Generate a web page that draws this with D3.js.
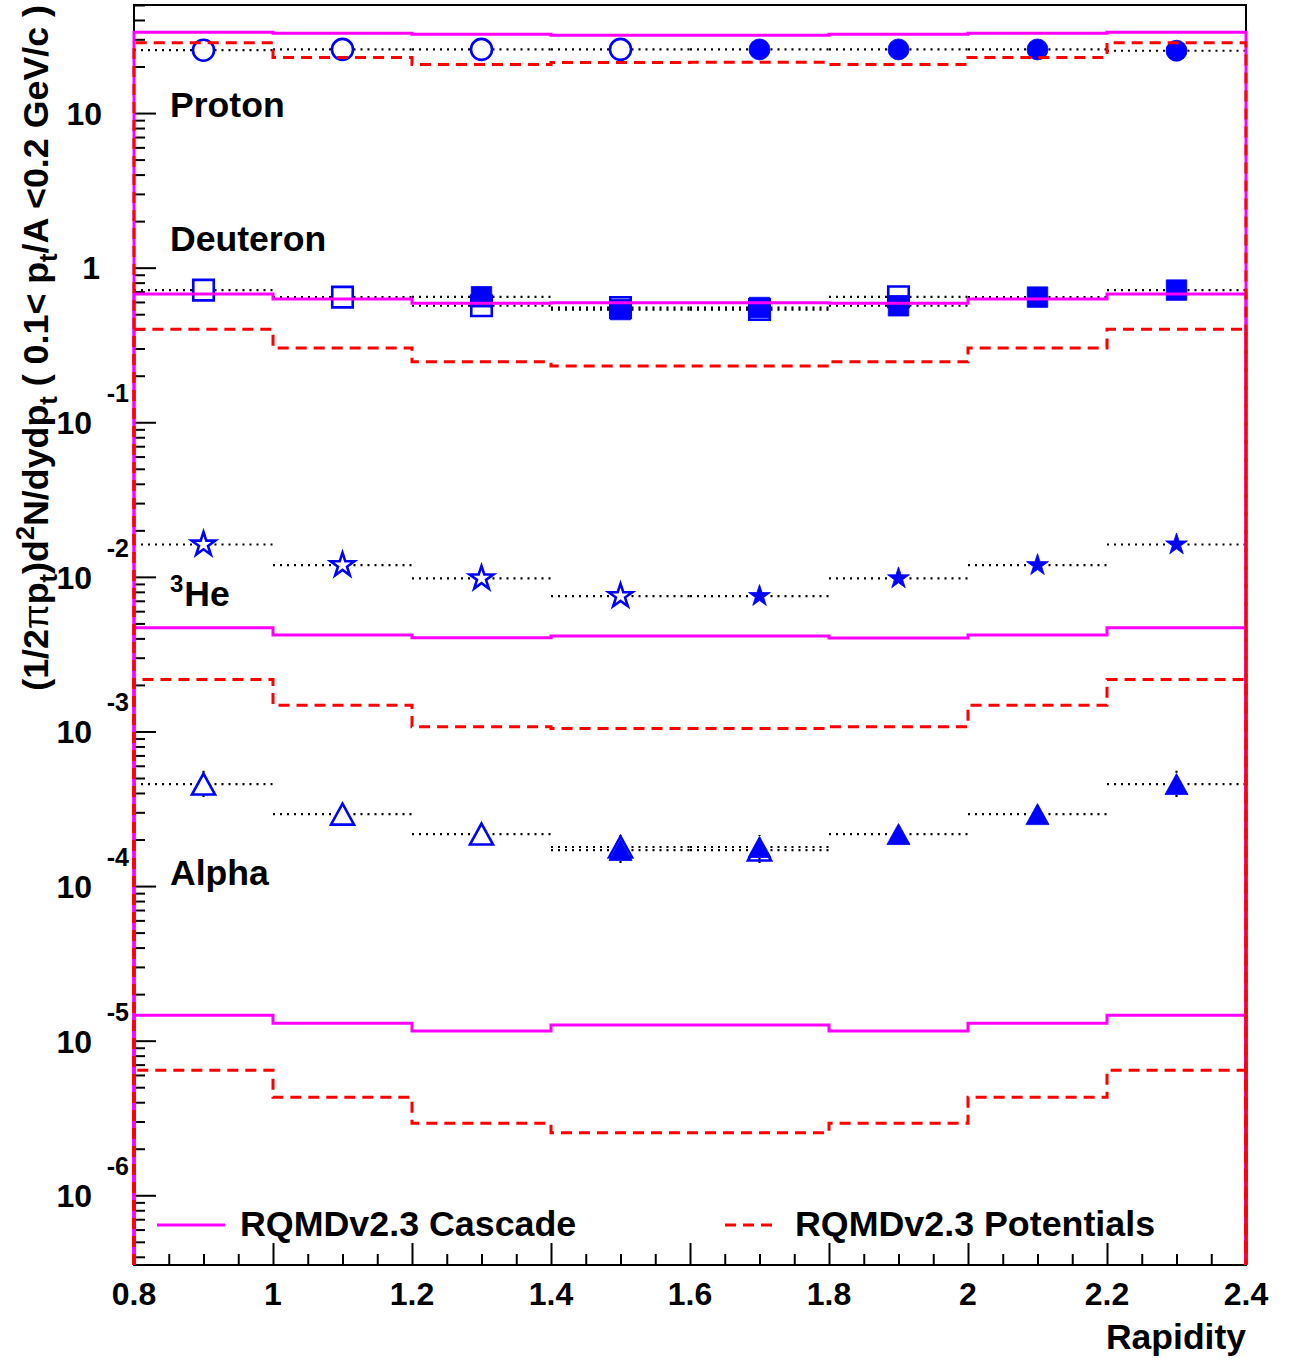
<!DOCTYPE html>
<html><head><meta charset="utf-8">
<script src="https://cdn.jsdelivr.net/npm/d3@7"></script>
<style>
body{margin:0;background:#fff}
text{font-family:"Liberation Sans",Arial,Helvetica,sans-serif;font-weight:bold;fill:#000}
</style>
</head><body>
<svg id="chart" width="1294" height="1364"></svg>
<script>
// ---------------- DATA ----------------
const binEdges = [0.8, 1.0, 1.2, 1.4, 1.6, 1.8, 2.0, 2.2, 2.4];
const xTickLabels = ["0.8","1","1.2","1.4","1.6","1.8","2","2.2","2.4"];
const yMajorExponents = [-6, -5, -4, -3, -2, -1, 0, 1];

// RQMD histograms (8 bins)
const protonCascade     = [33.3, 32.8, 32.4, 31.9, 31.9, 32.4, 32.8, 33.3];
const protonPotentials  = [28.5, 22.9, 20.6, 21.2, 21.3, 20.6, 22.9, 28.5];
const deuteronCascade   = [0.675, 0.626, 0.588, 0.593, 0.593, 0.588, 0.626, 0.675];
const deuteronPotentials= [0.399, 0.302, 0.246, 0.231, 0.231, 0.246, 0.302, 0.399];
const he3Cascade        = [0.00469, 0.00420, 0.00404, 0.00414, 0.00414, 0.00402, 0.00420, 0.00469];
const he3Potentials     = [0.00217, 0.001475, 0.001072, 0.001047, 0.001047, 0.001072, 0.001475, 0.00217];
const alphaCascade      = [1.459e-5, 1.294e-5, 1.153e-5, 1.262e-5, 1.262e-5, 1.153e-5, 1.294e-5, 1.459e-5];
const alphaPotentials   = [6.43e-6, 4.30e-6, 2.92e-6, 2.54e-6, 2.54e-6, 2.92e-6, 4.30e-6, 6.43e-6];

// Data points (open = measured, filled = reflected)
const protonOpenX   = [0.9, 1.1, 1.3, 1.5];
const protonOpenY   = [25.5, 25.8, 25.8, 25.8];
const protonFilledX = [1.7, 1.9, 2.1, 2.3];
const protonFilledY = [25.8, 25.8, 25.8, 25.3];

const deuteronOpenX   = [0.9, 1.1, 1.3, 1.5, 1.7, 1.9];
const deuteronOpenY   = [0.716, 0.645, 0.567, 0.552, 0.536, 0.648];
const deuteronFilledX = [1.3, 1.5, 1.7, 1.9, 2.1, 2.3];
const deuteronFilledY = [0.648, 0.536, 0.552, 0.567, 0.645, 0.716];

const he3OpenX   = [0.9, 1.1, 1.3, 1.5];
const he3OpenY   = [0.0162, 0.0119, 0.00978, 0.00751];
const he3FilledX = [1.7, 1.9, 2.1, 2.3];
const he3FilledY = [0.00751, 0.00978, 0.0119, 0.0162];

const alphaOpenX     = [0.9, 1.1, 1.3, 1.5, 1.7];
const alphaOpenY     = [4.57e-4, 2.92e-4, 2.17e-4, 1.79e-4, 1.71e-4];
const alphaOpenErr   = [1.0e-4, 3.5e-5, 2.5e-5, 3.5e-5, 3.5e-5];
const alphaFilledX   = [1.5, 1.7, 1.9, 2.1, 2.3];
const alphaFilledY   = [1.71e-4, 1.79e-4, 2.17e-4, 2.92e-4, 4.57e-4];
const alphaFilledErr = [3.5e-5, 3.5e-5, 2.5e-5, 3.5e-5, 1.0e-4];

const speciesLabels = ["Proton", "Deuteron", "He", "Alpha"];
const legendLabels = ["RQMDv2.3 Cascade", "RQMDv2.3 Potentials"];

// ---------------- LAYOUT ----------------
const M = {l:134, r:1246, t:5, b:1265};
const BLUE = "#0000ff", MAG = "#ff00ff", RED = "#ff0000";
const svg = d3.select("#chart");
svg.append("rect").attr("width",1294).attr("height",1364).attr("fill","#fff");

const x = d3.scaleLinear().domain([0.8, 2.4]).range([M.l, M.r]);
const y = d3.scaleLog().domain([3.54e-7, 50]).range([M.b, M.t]);

// frame
svg.append("rect").attr("x",M.l).attr("y",M.t).attr("width",M.r-M.l).attr("height",M.b-M.t)
  .attr("fill","none").attr("stroke","#000").attr("stroke-width",2);

// y ticks
const yMajors = yMajorExponents.map(e => Math.pow(10, e));
const yMinors = [];
for (let k = -7; k <= 1; k++) for (let m = 2; m <= 9; m++) {
  const v = m * Math.pow(10, k);
  if (v >= y.domain()[0] && v <= y.domain()[1]) yMinors.push(v);
}
function styleAxis(g){ g.select(".domain").remove(); g.selectAll("line").attr("stroke","#000").attr("stroke-width",2); }
svg.append("g").attr("transform",`translate(${M.l},0)`)
  .call(d3.axisRight(y).tickValues(yMajors).tickSize(22).tickFormat("")).call(styleAxis);
svg.append("g").attr("transform",`translate(${M.l},0)`)
  .call(d3.axisRight(y).tickValues(yMinors).tickSize(11).tickFormat("")).call(styleAxis);

// x ticks
const xMajors = d3.range(0, 9).map(i => 0.8 + 0.2*i);
const xMinors = d3.range(0, 33).map(i => 0.8 + 0.05*i).filter((v,i) => i % 4 !== 0);
svg.append("g").attr("transform",`translate(0,${M.b})`)
  .call(d3.axisTop(x).tickValues(xMajors).tickSize(22).tickFormat("")).call(styleAxis);
svg.append("g").attr("transform",`translate(0,${M.b})`)
  .call(d3.axisTop(x).tickValues(xMinors).tickSize(11).tickFormat("")).call(styleAxis);

// x tick labels
xMajors.forEach((v,i) => {
  svg.append("text").attr("x", x(v)).attr("y", 1305).attr("text-anchor","middle")
    .attr("font-size", 32).text(xTickLabels[i]);
});
svg.append("text").attr("x", M.r).attr("y", 1349).attr("text-anchor","end")
  .attr("font-size", 35.5).text("Rapidity");

// y tick labels
yMajorExponents.forEach(e => {
  const yy = y(Math.pow(10, e));
  if (e === 1) {
    svg.append("text").attr("x",102).attr("y",yy+11.5).attr("text-anchor","end").attr("font-size",32).text("10");
  } else if (e === 0) {
    svg.append("text").attr("x",100).attr("y",yy+11.5).attr("text-anchor","end").attr("font-size",32).text("1");
  } else {
    svg.append("text").attr("x",92).attr("y",yy+12).attr("text-anchor","end").attr("font-size",32).text("10");
    svg.append("text").attr("x",129).attr("y",yy-20).attr("text-anchor","end").attr("font-size",25).text(String(e));
  }
});

// y title
const yt = svg.append("text").attr("transform","translate(48,5) rotate(-90)").attr("text-anchor","end").attr("font-size",35.8);
const parts = [
  {t:"(1/2"}, {t:"\u03c0", w:"normal"}, {t:"p"}, {t:"t", sub:true}, {t:")d"}, {t:"2", sup:true},
  {t:"N/dydp"}, {t:"t", sub:true}, {t:"\u00a0( 0.1< p"}, {t:"t", sub:true}, {t:"/A <0.2 GeV/c )"}
];
let shift = 0;
parts.forEach(p => {
  let target = p.sub ? 9 : (p.sup ? -14 : 0);
  const ts = yt.append("tspan").text(p.t).attr("dy", target - shift);
  shift = target;
  if (p.sub || p.sup) ts.attr("font-size", 25.5);
  if (p.w) ts.attr("font-weight", p.w);
});

// ---------------- DATA MARKS ----------------
const dotted = {stroke:"#000", "stroke-width":2.2, "stroke-dasharray":"2,5"};
function applyAttrs(sel, o){ Object.entries(o).forEach(([k,v]) => sel.attr(k,v)); return sel; }
const GAP = 11;
function xErr(xs, ys){
  xs.forEach((xv,i) => {
    const yy = y(ys[i]), cx = x(xv);
    applyAttrs(svg.append("line").attr("x1", x(xv-0.1)).attr("x2", cx-GAP).attr("y1",yy).attr("y2",yy), dotted);
    applyAttrs(svg.append("line").attr("x1", cx+GAP).attr("x2", x(xv+0.1)).attr("y1",yy).attr("y2",yy), dotted);
  });
}
function yErr(xs, ys, es){
  xs.forEach((xv,i) => {
    const cx = x(xv), yy = y(ys[i]);
    const top = y(ys[i]+es[i]), bot = y(ys[i]-es[i]);
    if (top < yy-GAP) applyAttrs(svg.append("line").attr("x1",cx).attr("x2",cx).attr("y1",top).attr("y2",yy-GAP), dotted);
    if (bot > yy+GAP) applyAttrs(svg.append("line").attr("x1",cx).attr("x2",cx).attr("y1",yy+GAP).attr("y2",bot), dotted);
  });
}
const triPath = (r) => `M0,${-r}L${r*1.1},${r}L${-r*1.1},${r}Z`;
function markers(xs, ys, kind, filled){
  let d;
  if (kind === "circle") d = d3.symbol(d3.symbolCircle, Math.PI*10.5*10.5)();
  else if (kind === "square") d = d3.symbol(d3.symbolSquare, 20.5*20.5)();
  else if (kind === "star") d = d3.symbol(d3.symbolStar, (filled ? 11.5*11.5 : 12.5*12.5)/0.8908130915292852)();
  else d = triPath(10.5);
  xs.forEach((xv,i) => {
    svg.append("path").attr("d", d).attr("transform", `translate(${x(xv)},${y(ys[i])})`)
      .attr("fill", filled ? BLUE : "none").attr("stroke", BLUE)
      .attr("stroke-width", filled ? 0.8 : 2.6).attr("stroke-linejoin","miter");
  });
}

// error bars
xErr(protonOpenX, protonOpenY); xErr(protonFilledX, protonFilledY);
xErr(deuteronOpenX, deuteronOpenY); xErr(deuteronFilledX, deuteronFilledY);
xErr(he3OpenX, he3OpenY); xErr(he3FilledX, he3FilledY);
xErr(alphaOpenX, alphaOpenY); xErr(alphaFilledX, alphaFilledY);
yErr(alphaOpenX, alphaOpenY, alphaOpenErr); yErr(alphaFilledX, alphaFilledY, alphaFilledErr);

// markers
markers(protonOpenX, protonOpenY, "circle", false);
markers(protonFilledX, protonFilledY, "circle", true);
markers(deuteronOpenX, deuteronOpenY, "square", false);
markers(deuteronFilledX, deuteronFilledY, "square", true);
markers(he3OpenX, he3OpenY, "star", false);
markers(he3FilledX, he3FilledY, "star", true);
markers(alphaOpenX, alphaOpenY, "triangle", false);
markers(alphaFilledX, alphaFilledY, "triangle", true);

// histograms
function histPath(vals){
  const p = d3.path();
  p.moveTo(x(binEdges[0]), M.b);
  vals.forEach((v,i) => { p.lineTo(x(binEdges[i]), y(v)); p.lineTo(x(binEdges[i+1]), y(v)); });
  p.lineTo(x(binEdges[binEdges.length-1]), M.b);
  return p.toString();
}
[protonCascade, deuteronCascade, he3Cascade, alphaCascade].forEach(h => {
  svg.append("path").attr("d", histPath(h)).attr("fill","none").attr("stroke",MAG).attr("stroke-width",3);
});
[protonPotentials, deuteronPotentials, he3Potentials, alphaPotentials].forEach(h => {
  svg.append("path").attr("d", histPath(h)).attr("fill","none").attr("stroke",RED).attr("stroke-width",3)
    .attr("stroke-dasharray","11,7");
});

// species labels
svg.append("text").attr("x",170).attr("y",117).attr("font-size",35.6).text(speciesLabels[0]);
svg.append("text").attr("x",170).attr("y",251).attr("font-size",35.6).text(speciesLabels[1]);
const he = svg.append("text").attr("x",170).attr("y",606).attr("font-size",35.6);
he.append("tspan").attr("font-size",24).attr("dy",-14).text("3");
he.append("tspan").attr("dy",14).attr("dx",1).text(speciesLabels[2]);
svg.append("text").attr("x",170).attr("y",885).attr("font-size",35.6).text(speciesLabels[3]);

// legend
svg.append("line").attr("x1",157).attr("x2",225).attr("y1",1225).attr("y2",1225).attr("stroke",MAG).attr("stroke-width",3);
svg.append("text").attr("x",240).attr("y",1236).attr("font-size",35.8).text(legendLabels[0]);
svg.append("line").attr("x1",725).attr("x2",773).attr("y1",1225).attr("y2",1225).attr("stroke",RED).attr("stroke-width",3).attr("stroke-dasharray","11,7");
svg.append("text").attr("x",795).attr("y",1236).attr("font-size",35.8).text(legendLabels[1]);
</script>
</body></html>
